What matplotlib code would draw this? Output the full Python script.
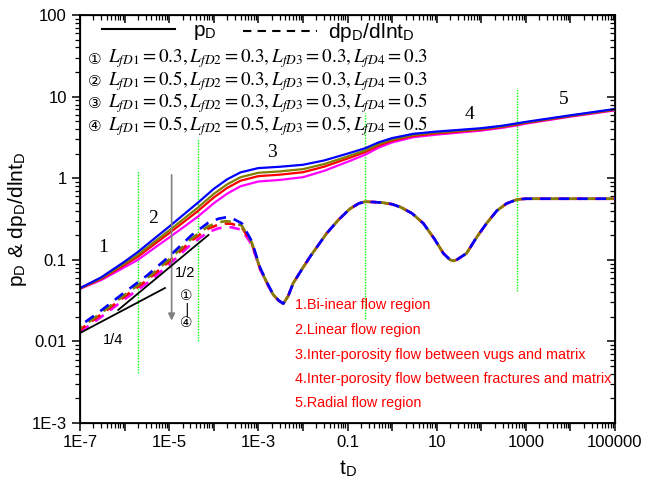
import numpy as np
import matplotlib
matplotlib.use("Agg")
import matplotlib.pyplot as plt
from matplotlib.ticker import FixedLocator, FixedFormatter, LogLocator, NullFormatter

plt.rcParams["mathtext.fontset"] = "stix"
plt.rcParams["font.family"] = ["Liberation Sans", "DejaVu Sans"]

# ---- data ----
t_p = [1e-7, 3e-7, 1e-6, 2e-6, 5e-6, 1e-5, 2e-5, 4.4e-5, 1e-4, 2e-4, 4e-4,
       1e-3, 3e-3, 1e-2, 3e-2, 0.1, 0.25, 0.5, 1, 3, 10, 30, 100, 300, 630,
       1e3, 1e4, 1e5]
pd_1 = [0.045, 0.061, 0.095, 0.125, 0.188, 0.255, 0.35, 0.50, 0.74, 0.97, 1.18,
        1.33, 1.38, 1.46, 1.65, 2.0, 2.33, 2.75, 3.1, 3.5, 3.73, 3.9, 4.1, 4.4,
        4.7, 4.9, 5.9, 7.05]
pd_2 = [0.04469, 0.05938, 0.08992, 0.1156, 0.1711, 0.229, 0.3096, 0.4359, 0.6421,
        0.8416, 1.0287, 1.165, 1.2117, 1.2914, 1.4893, 1.8447, 2.186, 2.6108,
        2.9702, 3.3849, 3.6192, 3.7964, 4.0039, 4.3112, 4.6052, 4.8171, 5.8197,
        6.954]
pd_3 = [0.04447, 0.05825, 0.08646, 0.1093, 0.1599, 0.212, 0.2836, 0.3952, 0.5802,
        0.7605, 0.9327, 1.06, 1.1042, 1.183, 1.3842, 1.741, 2.0886, 2.5158,
        2.8808, 3.3054, 3.5419, 3.7239, 3.937, 4.2488, 4.5384, 4.7587, 5.763,
        6.886]
pd_4 = [0.04412, 0.05648, 0.0812, 0.1, 0.1435, 0.1875, 0.2465, 0.3378, 0.4933,
        0.6467, 0.7973, 0.911, 0.9517, 1.0282, 1.2313, 1.5873, 1.9417, 2.3707,
        2.7434, 3.1818, 3.422, 3.6111, 3.8318, 4.1509, 4.434, 4.6667, 5.6731,
        6.779]

log_t_d = [-7, -6.5, -6, -5.5, -5, -4.5, -4.13, -3.9, -3.75, -3.6, -3.37, -3.15,
           -2.96, -2.8, -2.67, -2.55,
           -2.44, -2.33, -2.22, -2.0, -1.84, -1.47, -1.2, -0.95, -0.75, -0.61,
           -0.4, -0.2, 0, 0.2, 0.45, 0.7, 0.95, 1.15, 1.3, 1.37, 1.45, 1.67, 1.9,
           2.12, 2.35, 2.57, 2.81, 3.0, 4, 5]
dp_early_1 = [0.0155, 0.0245, 0.040, 0.064, 0.11, 0.2, 0.283, 0.318, 0.33, 0.325,
              0.28, 0.17, 0.08, 0.052, 0.038, 0.032]
dp_early_2 = [0.01451, 0.02285, 0.0371, 0.05898, 0.1008, 0.182, 0.2562, 0.287,
              0.2970, 0.2942, 0.2612, 0.1639, 0.0785, 0.0514, 0.03772, 0.03188]
dp_early_3 = [0.01392, 0.02188, 0.0354, 0.05601, 0.0953, 0.1716, 0.2405, 0.269,
              0.2778, 0.2762, 0.25, 0.1602, 0.0776, 0.0511, 0.03754, 0.0318]
dp_early_4 = [0.01303, 0.0204, 0.0328, 0.05161, 0.0873, 0.1562, 0.2177, 0.2427,
              0.25, 0.25, 0.2333, 0.1545, 0.0762, 0.0505, 0.03725, 0.03168]
dp_late = [0.029, 0.036, 0.0515, 0.08, 0.109, 0.21, 0.31, 0.42, 0.49, 0.515, 0.51,
           0.5, 0.48, 0.44, 0.37, 0.28, 0.18, 0.12, 0.1, 0.097, 0.1, 0.12, 0.19,
           0.28, 0.4, 0.49, 0.55, 0.56, 0.56, 0.56]

colors = ["#0000ff", "#808000", "#ff0000", "#ff00ff"]

# slope guide lines (t, value)
slope_q_t = [1e-7, 8.05e-6]
slope_q_v = [0.01267, 0.0451]
slope_h_t = [7.2e-7, 7.6e-5]
slope_h_v = [0.0243, 0.2014]

# vertical region boundaries: t, y bottom, y top
bound_t = [2e-6, 4.4e-5, 0.245, 630]
bound_lo = [0.0041, 0.01, 0.019, 0.041]
bound_hi = [1.26, 3.1, 6.3, 12.7]

region_labels = ["1", "2", "3", "4", "5"]
region_t = [3.3e-7, 4.4e-6, 2.0e-3, 55, 7000]
region_v = [0.14, 0.325, 2.04, 5.96, 9.1]

param_lines = [
    r"$L_{fD1}=0.3,L_{fD2}=0.3,L_{fD3}=0.3,L_{fD4}=0.3$",
    r"$L_{fD1}=0.5,L_{fD2}=0.3,L_{fD3}=0.3,L_{fD4}=0.3$",
    r"$L_{fD1}=0.5,L_{fD2}=0.3,L_{fD3}=0.3,L_{fD4}=0.5$",
    r"$L_{fD1}=0.5,L_{fD2}=0.5,L_{fD3}=0.5,L_{fD4}=0.5$",
]
circles = ["\u2460", "\u2461", "\u2462", "\u2463"]

notes = [
    "1.Bi-inear flow region",
    "2.Linear flow region",
    "3.Inter-porosity flow between vugs and matrix",
    "4.Inter-porosity flow between fractures and matrix",
    "5.Radial flow region",
]

xtick_vals = [1e-7, 1e-6, 1e-5, 1e-4, 1e-3, 1e-2, 0.1, 1, 10, 100, 1000, 1e4, 1e5]
xtick_text = ["1E-7", "", "1E-5", "", "1E-3", "", "0.1", "", "10", "", "1000", "", "100000"]
ytick_vals = [1e-3, 1e-2, 0.1, 1, 10, 100]
ytick_text = ["1E-3", "0.01", "0.1", "1", "10", "100"]

# ---- figure ----
fig = plt.figure(figsize=(6.49, 4.87), dpi=100)
ax = fig.add_axes([80 / 649, 64 / 487, 535 / 649, 408 / 487])
ax.set_xscale("log")
ax.set_yscale("log")
ax.set_xlim(1e-7, 1e5)
ax.set_ylim(1e-3, 100)

t_d = 10.0 ** np.array(log_t_d)
pd_all = [pd_1, pd_2, pd_3, pd_4]
dp_all = [dp_early_1 + dp_late, dp_early_2 + dp_late,
          dp_early_3 + dp_late, dp_early_4 + dp_late]

for i in (3, 2, 1, 0):
    ax.plot(t_p, pd_all[i], color=colors[i], lw=1.6, zorder=3)
for k, i in enumerate((3, 2, 1, 0)):
    ax.plot(t_d, dp_all[i], color=colors[i], lw=1.9, zorder=3,
            linestyle=(k * 1.5, (4, 3)))

ax.plot(slope_q_t, slope_q_v, color="black", lw=1.3, zorder=4)
ax.plot(slope_h_t, slope_h_v, color="black", lw=1.3, zorder=4)

for t, lo, hi in zip(bound_t, bound_lo, bound_hi):
    ax.plot([t, t], [lo, hi], color="#00ff00", lw=1.0, linestyle=(0, (1, 1)), zorder=2)

for lab, t, v in zip(region_labels, region_t, region_v):
    ax.text(t, v, lab, fontsize=14, family="Liberation Serif",
            ha="center", va="center")

# arrow and case marks
ax.annotate("", xy=(1.135e-5, 0.018), xytext=(1.135e-5, 1.1),
            arrowprops=dict(arrowstyle="-|>", color="#808080", lw=1.2,
                            mutation_scale=10, shrinkA=0, shrinkB=0))
ax.text(2.4e-5, 0.0245, "\u2460\n|\n\u2463", fontsize=10, ha="center",
        va="center", linespacing=0.95, family=["DejaVu Sans"])
ax.text(2.25e-5, 0.0695, "1/2", fontsize=10.5, ha="center", va="center")
ax.text(5.5e-7, 0.0104, "1/4", fontsize=10.5, ha="center", va="center")

# legend header
ax.plot([0.0406, 0.1776], [0.9657, 0.9657], color="black", lw=1.5,
        transform=ax.transAxes, clip_on=False)
ax.text(0.211, 0.957, r"p$_\mathregular{D}$", fontsize=15, transform=ax.transAxes,
        va="center", ha="left")
ax.plot([0.3047, 0.443], [0.9597, 0.9597], color="black", lw=1.5,
        linestyle=(0, (4, 3)), transform=ax.transAxes, clip_on=False)
ax.text(0.4636, 0.957, r"dp$_\mathregular{D}$/dlnt$_\mathregular{D}$", fontsize=15,
        transform=ax.transAxes, va="center", ha="left")

param_y = [59, 81, 103, 126]
for c, s, y in zip(circles, param_lines, param_y):
    yf = (423 - y) / 408
    ax.text((95 - 80) / 535, yf, c, fontsize=11, transform=ax.transAxes,
            ha="center", va="center", family=["DejaVu Sans"])
    ax.text((108 - 80) / 535, yf, s, fontsize=13.8, transform=ax.transAxes,
            ha="left", va="center")

note_y = [305, 330, 355, 379, 403]
for s, y in zip(notes, note_y):
    ax.text((295 - 80) / 535, (423 - y) / 408, s, fontsize=10.4, color="red",
            transform=ax.transAxes, ha="left", va="center")

# axes / ticks
ax.xaxis.set_major_locator(FixedLocator(xtick_vals))
ax.xaxis.set_major_formatter(FixedFormatter(xtick_text))
ax.yaxis.set_major_locator(FixedLocator(ytick_vals))
ax.yaxis.set_major_formatter(FixedFormatter(ytick_text))
for a in (ax.xaxis, ax.yaxis):
    a.set_minor_locator(LogLocator(base=10, subs=np.arange(2, 10), numticks=30))
    a.set_minor_formatter(NullFormatter())
ax.tick_params(which="major", direction="out", length=6, width=1.1,
               labelsize=12, top=False, right=False)
ax.tick_params(which="minor", direction="out", length=3.5, width=0.9,
               top=False, right=False)
ax.tick_params(axis="x", pad=2.5)
for sp in ax.spines.values():
    sp.set_linewidth(1.3)

axt = ax.twiny()
axt.set_xscale("log")
axt.set_xlim(ax.get_xlim())
axt.xaxis.set_major_locator(FixedLocator(xtick_vals))
axt.xaxis.set_minor_locator(LogLocator(base=10, subs=np.arange(2, 10), numticks=30))
axt.tick_params(which="both", direction="in", labeltop=False)
axt.tick_params(which="major", length=6, width=1.1)
axt.tick_params(which="minor", length=3.5, width=0.9)
axr = ax.twinx()
axr.set_yscale("log")
axr.set_ylim(ax.get_ylim())
axr.yaxis.set_major_locator(FixedLocator(ytick_vals))
axr.yaxis.set_minor_locator(LogLocator(base=10, subs=np.arange(2, 10), numticks=30))
axr.tick_params(which="both", direction="in", labelright=False)
axr.tick_params(which="major", length=6, width=1.1)
axr.tick_params(which="minor", length=3.5, width=0.9)

ax.set_xlabel(r"t$_\mathregular{D}$", fontsize=15, labelpad=6)
ax.set_ylabel(r"p$_\mathregular{D}$ & dp$_\mathregular{D}$/dlnt$_\mathregular{D}$",
              fontsize=15, labelpad=2)

fig.savefig("out.png", dpi=100)
